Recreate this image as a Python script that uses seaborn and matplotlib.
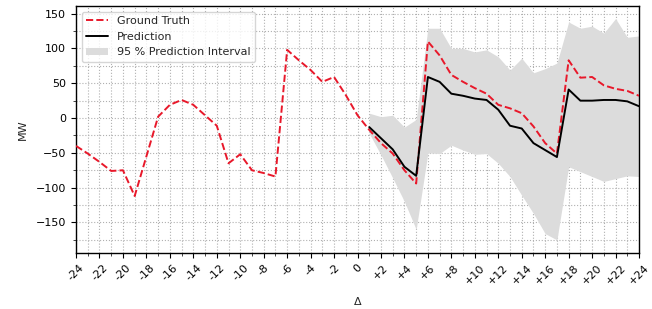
import numpy as np
import pandas as pd
import matplotlib
matplotlib.use("Agg")
import matplotlib.pyplot as plt
from matplotlib.ticker import MultipleLocator
import seaborn as sns

hours = list(range(-24, 25))
ground_truth = [-40, -51, -63, -76, -75, -112, -55, 2, 19, 26, 19, 4, -11, -65, -52, -75, -79, -84,
                98, 83, 69, 52, 59, 33, 4,
                -17, -36, -51, -75, -94, 110, 90, 62, 52, 43, 35, 19, 14, 7, -12, -36, -51,
                83, 58, 59, 47, 42, 39, 32]
pred_hours = list(range(1, 25))
prediction = [-13, -29, -45, -70, -83, 59, 52, 35, 32, 28, 26, 12, -11, -15, -36, -46, -56,
              41, 25, 25, 26, 26, 24, 17]
upper = [7, 2, 4, -13, -2, 129, 129, 100, 100, 95, 98, 88, 69, 86, 65, 71, 79,
         138, 129, 132, 122, 143, 116, 118]
lower = [-22, -53, -86, -120, -160, -50, -51, -39, -46, -52, -51, -65, -84, -111, -137, -166, -175,
         -70, -77, -84, -91, -87, -83, -84]
xtick_vals = list(range(-24, 25, 2))
xtick_labels = [("+%d" % v) if v > 0 else ("%d" % v) for v in xtick_vals]

sns.set_style("white")
plt.rcParams['font.family'] = ['DejaVu Sans']
plt.rcParams['font.size'] = 8

fig = plt.figure(figsize=(6.52, 3.09), dpi=100)
ax = fig.add_axes([0.1166, 0.182, 0.8635, 0.7975])

gt_df = pd.DataFrame({"h": hours, "v": ground_truth})
pr_df = pd.DataFrame({"h": pred_hours, "v": prediction})

ax.fill_between(pred_hours, lower, upper, color="#dcdcdc", linewidth=0,
                label="95 % Prediction Interval", zorder=1)
sns.lineplot(data=gt_df, x="h", y="v", ax=ax, color="#e8182a", linestyle="--",
             linewidth=1.4, label="Ground Truth", zorder=3)
sns.lineplot(data=pr_df, x="h", y="v", ax=ax, color="black", linewidth=1.4,
             label="Prediction", zorder=3)

ax.set_xlim(-24, 24)
ax.set_ylim(-193.5, 160.5)
ax.set_xticks(xtick_vals)
ax.set_xticklabels(xtick_labels, rotation=45, ha="center")
ax.xaxis.set_minor_locator(MultipleLocator(1))
ax.yaxis.set_major_locator(MultipleLocator(50))
ax.yaxis.set_minor_locator(MultipleLocator(25))
ax.tick_params(axis="both", which="major", direction="out", length=3.5, width=0.8,
               bottom=True, left=True, labelsize=8, colors="black")
ax.tick_params(axis="both", which="minor", direction="out", length=2, width=0.6,
               bottom=True, left=True)
ax.grid(True, which="both", color="#b0b0b0", linestyle=":", linewidth=0.8)
ax.set_axisbelow(True)
for s in ax.spines.values():
    s.set_color("black")
    s.set_linewidth(1.0)
ax.set_xlabel("Δ", fontsize=8, labelpad=8)
ax.set_ylabel("MW", fontsize=8, labelpad=6)

handles, labels = ax.get_legend_handles_labels()
order = [labels.index("Ground Truth"), labels.index("Prediction"),
         labels.index("95 % Prediction Interval")]
ax.legend([handles[i] for i in order], [labels[i] for i in order], loc="upper left",
          fontsize=8, frameon=True, framealpha=0.8, edgecolor="#cccccc", fancybox=True)

fig.savefig("out.png", dpi=100)
